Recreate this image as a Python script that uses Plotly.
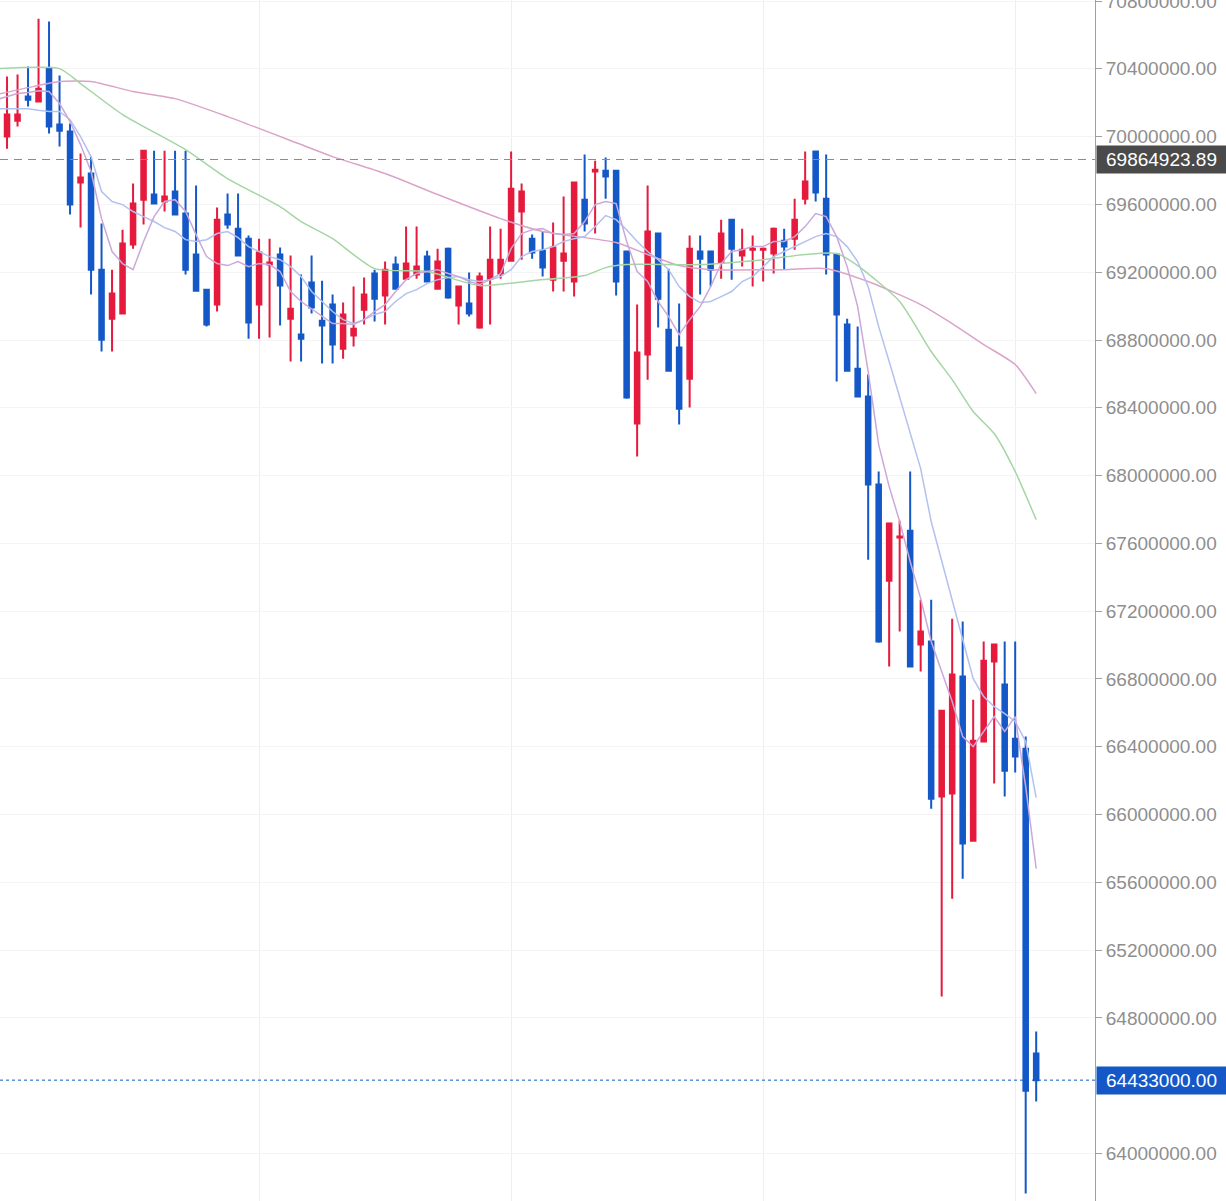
import plotly.graph_objects as go

# ---- data (prices in thousands of KRW) ----
K = 1000
IDX = list(range(100))

OPEN = [70130, 70000, 70094, 70236, 70207, 70401, 70071, 70030, 69729, 69782,
        69215, 68926, 68956, 69363, 69628, 69658, 69617, 69676, 69546, 69304,
        69097, 69009, 69540, 69457, 69398, 69009, 69245, 69304, 68926, 68832,
        69139, 68914, 69009, 68749, 68826, 68979, 69192, 69062, 69245, 69162,
        69186, 69292, 69103, 69339, 69003, 69015, 68873, 69162, 69192, 69268,
        69558, 69398, 69327, 69156, 69268, 69145, 69628, 69794, 69799, 69799,
        69322, 68307, 68714, 69428, 68861, 68755, 68572, 69322, 69322, 69257,
        69510, 69298, 69333, 69333, 69310, 69386, 69398, 69634, 69912, 69634,
        69304, 68891, 68631, 68466, 67947, 67380, 67634, 67675, 67003, 67021,
        66106, 66124, 66814, 65846, 66431, 66903, 66767, 66448, 66389, 64590]

HIGH = [70177, 70354, 70366, 70413, 70696, 70679, 70360, 70077, 69900, 69882,
        69487, 69215, 69451, 69723, 69917, 69917, 69917, 69917, 69917, 69711,
        69103, 69581, 69664, 69664, 69416, 69398, 69398, 69345, 69298, 69186,
        69298, 69150, 69068, 69021, 69115, 69168, 69215, 69263, 69292, 69469,
        69469, 69327, 69339, 69345, 69121, 69198, 69198, 69469, 69457, 69912,
        69723, 69422, 69440, 69493, 69646, 69729, 69894, 69858, 69876, 69799,
        69322, 69009, 69711, 69428, 69221, 69015, 69416, 69416, 69322, 69510,
        69516, 69457, 69416, 69345, 69463, 69457, 69634, 69912, 69912, 69894,
        69304, 68926, 68879, 68596, 68024, 67722, 67734, 68024, 67268, 67268,
        66619, 67156, 67139, 66678, 67021, 67009, 67021, 67021, 66460, 64720]

LOW = [69994, 69929, 70059, 70177, 70201, 70018, 69941, 69540, 69463, 69068,
       68732, 68732, 68950, 69339, 69481, 69599, 69558, 69534, 69186, 69086,
       68879, 68968, 69457, 69292, 68808, 68808, 68814, 68885, 68673, 68673,
       68956, 68661, 68661, 68690, 68761, 68891, 68909, 68891, 69097, 69156,
       69162, 69139, 69097, 69044, 68891, 68938, 68867, 68891, 69162, 69263,
       69274, 69280, 69174, 69086, 69086, 69056, 69440, 69428, 69634, 69062,
       68454, 68112, 68566, 68873, 68613, 68301, 68401, 69068, 69115, 69162,
       69156, 69233, 69115, 69145, 69192, 69215, 69333, 69599, 69617, 69186,
       68555, 68613, 68460, 67504, 67014, 66873, 67080, 66867, 66844, 66035,
       64926, 65504, 65622, 65840, 66425, 66183, 66106, 66248, 63764, 64307]

CLOSE = [70030, 70130, 70130, 70218, 70283, 70059, 70035, 69599, 69758, 69215,
         68802, 69074, 69369, 69605, 69917, 69605, 69646, 69540, 69215, 69091,
         68891, 69510, 69481, 69298, 68903, 69316, 69257, 69121, 68985, 68808,
         68991, 68885, 68773, 68950, 68867, 69068, 69044, 69215, 69103, 69251,
         69233, 69145, 69263, 69050, 69115, 68956, 69174, 69274, 69274, 69693,
         69676, 69316, 69227, 69345, 69310, 69729, 69487, 69805, 69764, 69145,
         68460, 68726, 69440, 69044, 68619, 68395, 69339, 69280, 69215, 69428,
         69339, 69333, 69339, 69339, 69457, 69351, 69510, 69735, 69670, 69304,
         68950, 68619, 68466, 67947, 67021, 67717, 67640, 66873, 67080, 66094,
         66613, 66826, 65829, 66436, 66908, 67003, 66259, 66342, 64371, 64433]

MA5 = [70218, 70236, 70254, 70260, 70271, 70266, 70195, 70089, 69953, 69794,
       69516, 69322, 69251, 69215, 69381, 69528, 69617, 69628, 69558, 69422,
       69292, 69251, 69239, 69263, 69233, 69251, 69245, 69204, 69086, 69027,
       68985, 68938, 68897, 68897, 68891, 68920, 68968, 69009, 69086, 69156,
       69192, 69204, 69215, 69192, 69174, 69145, 69127, 69156, 69192, 69339,
       69428, 69451, 69457, 69428, 69422, 69428, 69499, 69599, 69617, 69605,
       69381, 69204, 69145, 69027, 68938, 68832, 68920, 68997, 69115, 69251,
       69322, 69333, 69351, 69351, 69381, 69381, 69410, 69469, 69546, 69528,
       69410, 69233, 68997, 68613, 68183, 67935, 67729, 67493, 67274, 67021,
       66844, 66667, 66460, 66401, 66490, 66578, 66490, 66578, 66165, 65681]

MA10 = [70165, 70165, 70165, 70165, 70155, 70148, 70148, 70100, 70000, 69882,
        69676, 69617, 69599, 69558, 69528, 69499, 69463, 69440, 69392, 69381,
        69392, 69428, 69440, 69404, 69351, 69322, 69292, 69274, 69233, 69174,
        69086, 69027, 68968, 68920, 68897, 68920, 68950, 68968, 69027, 69074,
        69097, 69133, 69156, 69168, 69174, 69156, 69145, 69156, 69174, 69215,
        69292, 69322, 69333, 69351, 69381, 69398, 69410, 69469, 69534, 69510,
        69451, 69381, 69322, 69274, 69215, 69115, 69056, 69021, 69027, 69056,
        69086, 69145, 69174, 69233, 69292, 69322, 69351, 69381, 69410, 69428,
        69410, 69351, 69263, 69115, 68879, 68673, 68466, 68260, 68041, 67729,
        67493, 67257, 67021, 66802, 66696, 66637, 66596, 66549, 66431, 66100]

MA30_IDX = [0, 6, 8, 12, 18, 22, 27, 29, 32, 36, 41, 46, 51, 56, 58, 60, 67,
            73, 77, 80, 82, 86, 89, 91, 93, 95, 97, 99]
MA30 = [70401, 70401, 70313, 70130, 69923, 69752, 69587, 69499, 69398, 69221,
        69204, 69121, 69150, 69180, 69227, 69245, 69245, 69274, 69304, 69310,
        69239, 69027, 68732, 68566, 68378, 68248, 68024, 67740]

MA60_IDX = [0, 3, 6, 9, 13, 17, 22, 29, 32, 37, 42, 48, 52, 59, 62, 65, 68,
            75, 79, 83, 88, 91, 94, 97, 99]
MA60 = [70248, 70289, 70325, 70325, 70266, 70224, 70118, 69953, 69882, 69782,
        69658, 69516, 69440, 69375, 69304, 69239, 69215, 69215, 69221, 69145,
        69009, 68897, 68773, 68655, 68484]

REF_PRICE = 69864923.89
LAST_PRICE = CLOSE[-1] * K
GRID_X = [25, 49, 73, 97]
# price ticks (the one under the last-price tag is hidden by the tag in the original)
Y_TICKS = [64000000, 64800000, 65200000, 65600000, 66000000, 66400000, 66800000,
           67200000, 67600000, 68000000, 68400000, 68800000, 69200000, 69600000,
           70000000, 70400000, 70800000]

RED = "#e51a3c"
BLUE = "#1458c8"

fig = go.Figure()

def lines(x, y, color, shape="linear"):
    fig.add_trace(go.Scatter(x=x, y=[v * K for v in y], mode="lines",
                             line=dict(color=color, width=1.5, shape=shape, smoothing=0.6),
                             hoverinfo="skip"))

lines(MA60_IDX, MA60, "#dba3c9", "spline")
lines(MA30_IDX, MA30, "#a3d6a3", "spline")
lines(IDX, MA10, "#b3c1ef")
lines(IDX, MA5, "#cba8da")

fig.add_trace(go.Candlestick(
    x=IDX,
    open=[v * K for v in OPEN], high=[v * K for v in HIGH],
    low=[v * K for v in LOW], close=[v * K for v in CLOSE],
    increasing=dict(line=dict(color=RED, width=2), fillcolor=RED),
    decreasing=dict(line=dict(color=BLUE, width=2), fillcolor=BLUE),
    whiskerwidth=0,
))

fig.add_shape(type="line", xref="paper", x0=0, x1=1, yref="y", y0=REF_PRICE, y1=REF_PRICE,
              line=dict(color="#8c8c8c", width=1, dash="8px,6px"))
fig.add_shape(type="line", xref="paper", x0=0, x1=1, yref="y", y0=LAST_PRICE, y1=LAST_PRICE,
              line=dict(color=BLUE, width=1, dash="3px,3px"))

for price, bg in [(REF_PRICE, "#4a4a4a"), (LAST_PRICE, BLUE)]:
    fig.add_annotation(xref="paper", x=1, xanchor="left", xshift=1, yref="y", y=price,
                       text=f"{price:.2f}", showarrow=False, bgcolor=bg,
                       font=dict(family="Arial", size=19, color="white"),
                       width=127, height=25, borderpad=1, align="center")

fig.update_layout(
    width=1226, height=1201,
    margin=dict(l=0, r=131, t=0, b=0, autoexpand=False),
    paper_bgcolor="white", plot_bgcolor="white",
    showlegend=False, boxgap=0.38,
    xaxis=dict(range=[0.33, 104.6], rangeslider=dict(visible=False),
               tickvals=GRID_X, showticklabels=False, ticks="",
               showgrid=True, gridcolor="#eeeeee", gridwidth=1,
               zeroline=False, showline=False, automargin=False),
    yaxis=dict(side="right", range=[63720000, 70806000], tickvals=Y_TICKS,
               tickformat=".2f", showgrid=True, gridcolor="#f4f4f4",
               showline=True, linecolor="#a0a0a0", linewidth=1,
               ticks="outside", ticklen=6, tickcolor="#a0a0a0",
               tickfont=dict(family="Arial", size=19, color="#8e8e8e"),
               ticklabeloverflow="allow", automargin=False,
               zeroline=False),
)

fig.write_html("out.html", config={"displayModeBar": False},
               post_script="document.body.style.margin='0';document.body.style.overflow='hidden';")
